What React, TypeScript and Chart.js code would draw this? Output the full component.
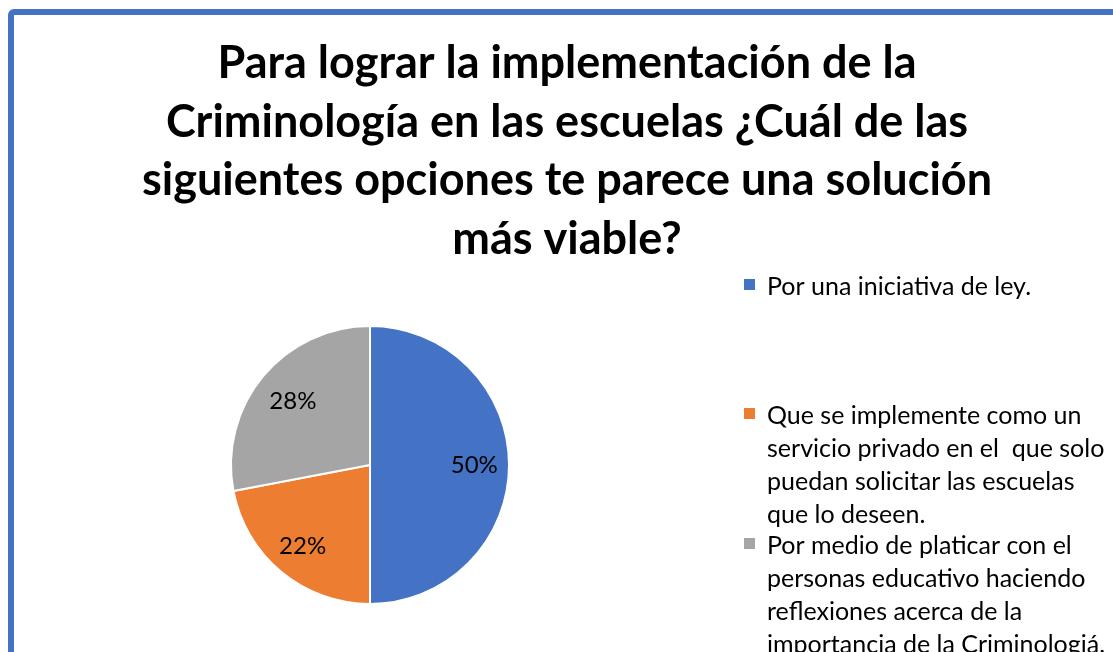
import React, { useEffect, useRef } from "react";
import { Chart, registerables } from "chart.js";

Chart.register(...registerables);

const TITLE_LINES = [
  "Para lograr la implementación de la",
  "Criminología en las escuelas ¿Cuál de las",
  "siguientes opciones te parece una solución",
  "más viable?",
];

const CATEGORIES: string[][] = [
  ["Por una iniciativa de ley."],
  [
    "Que se implemente como un",
    "servicio privado en el  que solo",
    "puedan solicitar las escuelas",
    "que lo deseen.",
  ],
  [
    "Por medio de platicar con el",
    "personas educativo haciendo",
    "reflexiones acerca de la",
    "importancia de la Criminologiá.",
  ],
];

const VALUES = [50, 22, 28];
const COLORS = ["#4472C4", "#ED7D31", "#A5A5A5"];

const FONT = "Lato, 'Open Sans', sans-serif";
const CANVAS_W = 1110;
const CANVAS_H = 640;

const titlePlugin = {
  id: "customTitle",
  afterDraw(chart: any) {
    const ctx = chart.ctx;
    ctx.save();
    ctx.fillStyle = "#000";
    ctx.font = `bold 45px ${FONT}`;
    ctx.textAlign = "center";
    ctx.textBaseline = "alphabetic";
    const baselines = [63, 122, 180, 239];
    TITLE_LINES.forEach((line, i) => {
      ctx.fillText(line, 553, baselines[i]);
    });
    ctx.restore();
  },
};

const labelPlugin = {
  id: "sliceLabels",
  afterDatasetsDraw(chart: any) {
    const ctx = chart.ctx;
    const meta = chart.getDatasetMeta(0);
    const data = chart.data.datasets[0].data as number[];
    const total = data.reduce((a, b) => a + b, 0);
    ctx.save();
    ctx.fillStyle = "#000";
    ctx.font = `24px ${FONT}`;
    ctx.textAlign = "center";
    ctx.textBaseline = "middle";
    const factors = [0.75, 0.76, 0.72];
    meta.data.forEach((arc: any, i: number) => {
      const p = arc.getProps(["x", "y", "startAngle", "endAngle", "outerRadius"], true);
      const mid = (p.startAngle + p.endAngle) / 2;
      const r = p.outerRadius * factors[i];
      const pct = Math.round((data[i] / total) * 100) + "%";
      ctx.fillText(pct, p.x + Math.cos(mid) * r, p.y + Math.sin(mid) * r);
    });
    ctx.restore();
  },
};

const legendPlugin = {
  id: "wrapLegend",
  afterDraw(chart: any) {
    const ctx = chart.ctx;
    const labels = chart.data.labels as string[][];
    const colors = chart.data.datasets[0].backgroundColor as string[];
    const firstLineY = [272, 401, 531];
    const lineH = 33;
    ctx.save();
    ctx.font = `25px ${FONT}`;
    ctx.textAlign = "left";
    ctx.textBaseline = "middle";
    labels.forEach((lines, i) => {
      ctx.fillStyle = colors[i];
      ctx.fillRect(730, firstLineY[i] - 8, 11, 11);
      ctx.fillStyle = "#000";
      lines.forEach((ln, j) => {
        ctx.fillText(ln, 753, firstLineY[i] + j * lineH);
      });
    });
    ctx.restore();
  },
};

export default function App() {
  const canvasRef = useRef<HTMLCanvasElement | null>(null);

  useEffect(() => {
    document.body.style.margin = "0";
    document.body.style.overflow = "hidden";
    const canvas = canvasRef.current;
    if (!canvas) return;
    const chart = new Chart(canvas, {
      type: "pie",
      data: {
        labels: CATEGORIES,
        datasets: [
          {
            data: VALUES,
            backgroundColor: COLORS,
            borderColor: "#ffffff",
            borderWidth: 2,
          },
        ],
      },
      options: {
        responsive: false,
        animation: false,
        devicePixelRatio: 1,
        layout: {
          padding: { top: 309, left: 216, right: CANVAS_W - 496, bottom: CANVAS_H - 591 },
        },
        plugins: {
          legend: { display: false },
          title: { display: false },
          tooltip: { enabled: false },
        },
      },
      plugins: [titlePlugin, labelPlugin, legendPlugin],
    });
    return () => chart.destroy();
  }, []);

  return (
    <div
      style={{
        position: "fixed",
        left: 0,
        top: 0,
        width: 1113,
        height: 652,
        overflow: "hidden",
        background: "#fff",
      }}
    >
      <div
        style={{
          position: "absolute",
          left: 8,
          top: 9,
          width: 1200,
          height: 760,
          border: "6px solid #4472C4",
          borderRadius: 6,
          boxSizing: "content-box",
        }}
      >
        <canvas
          ref={canvasRef}
          width={CANVAS_W}
          height={CANVAS_H}
          style={{ position: "absolute", left: 0, top: 0, width: CANVAS_W, height: CANVAS_H }}
        />
      </div>
    </div>
  );
}
